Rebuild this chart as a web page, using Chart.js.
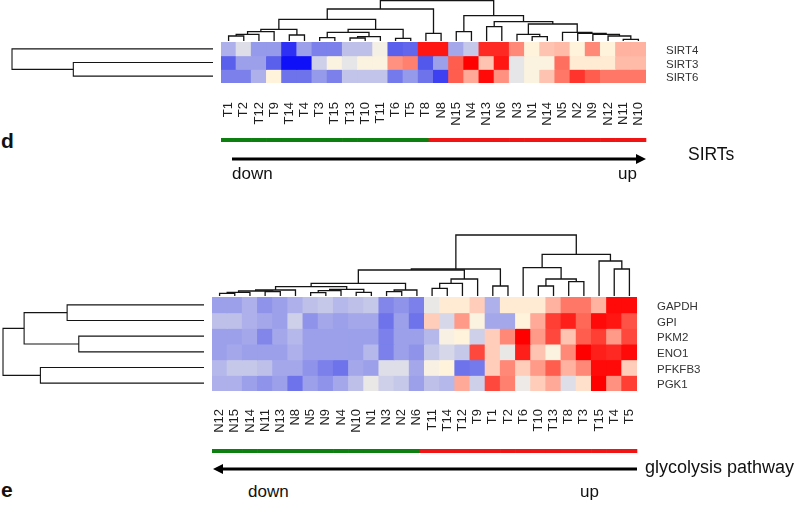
<!DOCTYPE html>
<html><head><meta charset="utf-8">
<script src="https://cdn.jsdelivr.net/npm/chart.js@4.4.1/dist/chart.umd.min.js"></script>
<style>
html,body{margin:0;padding:0;background:#fff;width:800px;height:507px;overflow:hidden;position:relative;font-family:"Liberation Sans",Arial,sans-serif;}
canvas{position:absolute;}
.t{position:absolute;white-space:nowrap;color:#111;line-height:1;}
</style></head><body>
<script>
// ---------- DATA ----------
const sirtSamples = ['T1','T2','T12','T9','T14','T4','T3','T15','T13','T10','T11','T6','T5','T8','N8','N15','N4','N13','N6','N3','N1','N14','N5','N2','N9','N12','N11','N10'];
const sirtGenes = ['SIRT4','SIRT3','SIRT6'];
const sirt4 = [-0.8,-0.2,-1.1,-1.1,-2.6,-1.0,-1.5,-1.5,-0.6,-0.6,0.1,-2.0,-1.9,2.8,2.8,-0.9,-0.5,2.6,2.6,1.6,0.4,0.9,1.0,0.4,1.6,0.4,1.1,1.1];
const sirt3 = [-2.0,-1.0,-1.0,-2.0,-3.0,-3.0,-0.4,0.3,-0.1,0.3,0.3,1.5,1.7,-2.1,-1.0,2.1,3.0,0.9,2.8,-0.1,0.3,0.3,1.9,0.5,0.5,0.5,1.0,1.0];
const sirt6 = [-1.5,-1.5,-0.8,0.4,-1.7,-1.7,-1.1,-1.5,-0.55,-0.55,-0.55,-1.6,-1.1,-1.7,-2.4,2.1,1.2,2.9,1.5,-0.1,0.3,0.9,1.8,2.5,2.1,1.8,1.8,1.8];
// column dendrogram (hclust style: negative = leaf position, positive = earlier merge)
const sirtColMerge = [[-1,-2],[1,-3],[2,-4],[-5,-6],[3,4],[-7,-8],[-9,-10],[7,-11],[6,8],[-12,-13],[9,10],[5,11],[-14,-15],[12,13],
  [-16,-17],[-18,-19],[-21,-22],[-20,17],[-27,-28],[-26,19],[-25,20],[-24,21],[-23,22],[18,23],[16,24],[15,25],[14,26]];
const sirtColHeight = [5,6.7,9.3,6,11.7,3.3,3,4.3,8.7,2.7,11.7,21.7,7.7,32,9.3,14.3,4.3,6.7,1.7,5,6.7,7.7,8.7,17,19.3,25.3,40.5];
const sirtRowMerge = [[-2,-3],[-1,1]];
const sirtRowHeight = [6.95,10];

const glySamples = ['N12','N15','N14','N11','N13','N8','N5','N9','N4','N10','N1','N3','N2','N6','T11','T14','T12','T9','T1','T2','T6','T10','T13','T8','T3','T15','T4','T5'];
const glyGenes = ['GAPDH','GPI','PKM2','ENO1','PFKFB3','PGK1'];
const gapdh  = [-1.0,-1.0,-0.8,-1.2,-1.0,-0.8,-0.6,-0.5,-0.7,-0.6,-0.5,-1.4,-1.2,-1.5,-0.05,0.5,0.5,0.8,-0.8,0.5,0.5,0.5,1.1,1.8,1.8,1.1,2.9,2.9];
const gpi    = [-0.6,-0.6,-0.8,-0.9,-1.0,-0.4,-1.2,-0.9,-1.0,-0.9,-0.9,-1.7,-1.0,-1.7,0.8,-0.3,1.4,0.3,-0.9,-0.9,0.4,1.2,2.4,2.7,2.0,2.9,2.8,2.2];
const pkm2   = [-1.0,-1.0,-0.9,-1.4,-0.9,-0.7,-1.0,-1.0,-1.0,-1.0,-1.0,-1.5,-1.0,-1.0,-0.7,0.2,0.4,-0.4,0.8,1.6,3.0,1.4,2.3,0.9,2.1,2.4,1.4,2.3];
const eno1   = [-1.0,-0.9,-1.0,-1.0,-1.0,-0.8,-1.0,-1.0,-1.0,-1.0,-0.7,-1.5,-1.0,-1.2,-0.5,-0.3,-0.5,2.3,0.8,-0.05,2.7,0.9,0.3,1.6,3.0,2.7,2.6,2.9];
const pfkfb3 = [-0.7,-0.5,-0.5,-0.6,-0.9,-0.9,-1.2,-1.5,-1.7,-0.9,-1.0,-0.2,-0.2,-0.9,0.2,0.4,-1.7,-1.6,0.8,1.6,0.8,1.4,2.1,1.1,1.6,2.9,2.9,0.8];
const pgk1   = [-0.8,-0.8,-1.0,-1.2,-1.0,-1.7,-1.0,-1.2,-0.9,-0.6,-0.05,-0.4,-0.5,-1.0,-0.6,-0.7,1.2,-0.4,2.3,1.7,0.0,0.8,1.2,-0.2,0.6,3.0,1.5,2.4];
const glyColMerge = [[-1,-2],[1,-3],[-4,-5],[2,3],[4,-6],[-7,-8],[6,-9],[-10,-11],[7,8],[5,9],[-12,-13],[11,-14],[10,12],
  [-15,-16],[14,-17],[15,-18],[13,16],[-19,-20],[17,18],[-22,-23],[-24,-25],[20,21],[-21,22],[-27,-28],[-26,24],[23,25],[19,26]];
const glyColHeight = [2.7,3.7,4.3,5,6,3.3,5.3,3.7,6.7,9.3,4.3,6,12.7,7.7,12.7,17,26,10,27,10,14.3,17,28.3,27,35,41.7,61];
const glyRowMerge = [[-1,-2],[-3,-4],[1,2],[-5,-6],[3,4]];
const glyRowHeight = [6.81,6.23,8.95,8.14,10];

// ---------- HELPERS ----------
const FONT = '"Liberation Sans", Arial, sans-serif';
Chart.defaults.font.family = FONT;

const stops = [[-3,[16,16,248]],[-2,[90,96,236]],[-1,[156,160,234]],[-0.5,[198,200,234]],[-0.15,[226,226,232]],
  [0.1,[244,240,230]],[0.4,[255,243,220]],[1,[255,186,168]],[2,[255,103,87]],[3,[255,0,0]]];
function colorFor(v){
  if (v <= stops[0][0]) return 'rgb('+stops[0][1].join(',')+')';
  for (let i=1;i<stops.length;i++){
    if (v <= stops[i][0]){
      const [a,ca]=stops[i-1],[b,cb]=stops[i]; const t=(v-a)/(b-a);
      return 'rgb('+ca.map((c,j)=>Math.round(c+(cb[j]-c)*t)).join(',')+')';
    }
  }
  return 'rgb(255,0,0)';
}
function mkCanvas(l,t,w,h){
  const c=document.createElement('canvas'); c.width=w; c.height=h;
  c.style.left=l+'px'; c.style.top=t+'px'; c.style.width=w+'px'; c.style.height=h+'px';
  document.body.appendChild(c); return c;
}
function text(s,l,baseline,size,bold){
  const d=document.createElement('div'); d.className='t'; d.textContent=s;
  d.style.left=l+'px'; d.style.top=(baseline-0.85*size)+'px'; d.style.fontSize=size+'px';
  if(bold) d.style.fontWeight='bold';
  document.body.appendChild(d);
}
function noPad(s){ s.paddingTop=0; s.paddingBottom=0; s.paddingLeft=0; s.paddingRight=0; }
function dendro(canvas, merges, heights, horizontal, nLeaves, hMax, lw){
  const pos=[];
  const node=i=> i<0 ? {p:-i-1,h:0} : {p:pos[i-1],h:heights[i-1]};
  const datasets = merges.map(([a,b],k)=>{
    const A=node(a), B=node(b), h=heights[k];
    pos[k]=(A.p+B.p)/2;
    const pts=[[A.p,A.h],[A.p,h],[B.p,h],[B.p,B.h]];
    return {data:pts.map(([p,hh])=>horizontal?{x:hh,y:p}:{x:p,y:hh}), showLine:true, borderColor:'#141414',
      borderWidth:lw, pointRadius:0, fill:false, tension:0, clip:false, borderJoinStyle:'miter'};
  });
  new Chart(canvas,{type:'scatter',data:{datasets},options:{responsive:false,animation:false,devicePixelRatio:1,events:[],
    layout:{padding:0},plugins:{legend:{display:false},tooltip:{enabled:false}},
    scales: horizontal ? {
      x:{type:'linear',display:false,min:0,max:hMax,reverse:true},
      y:{type:'linear',display:false,min:-0.5,max:nLeaves-0.5,reverse:true}
    } : {
      x:{type:'linear',display:false,min:-0.5,max:nLeaves-0.5},
      y:{type:'linear',display:false,min:0,max:hMax}
    }}});
}
const annot = {
  id:'annot',
  afterDraw(chart, args, o){
    const {ctx, chartArea:a, scales:{x}} = chart;
    const labels = chart.data.labels, n = labels.length;
    const w = (a.right-a.left)/n;
    const grp = labels.map(l=>l[0]);
    const b = [a.left];
    for (let i=1;i<n;i++) b.push(grp[i]!==grp[i-1] ? x.getPixelForValue(i-1)+o.splitShift*w : x.getPixelForValue(i)-w/2);
    b.push(a.right);
    ctx.save();
    for (let i=0;i<n;i++){
      ctx.fillStyle = o.groupColors[grp[i]];
      ctx.fillRect(b[i]-0.3, a.bottom+o.barOffset-2, b[i+1]-b[i]+0.6, 4);
    }
    const y = a.bottom + o.arrowOffset;
    const x0 = a.left + o.insetL, x1 = a.right - o.insetR;
    const hl = 10, hw = 5;
    ctx.strokeStyle='#000'; ctx.fillStyle='#000'; ctx.lineWidth=3;
    ctx.beginPath();
    if (o.dir==='right'){ ctx.moveTo(x0,y); ctx.lineTo(x1-hl+1,y); }
    else { ctx.moveTo(x1,y); ctx.lineTo(x0+hl-1,y); }
    ctx.stroke();
    ctx.beginPath();
    if (o.dir==='right'){ ctx.moveTo(x1,y); ctx.lineTo(x1-hl,y-hw); ctx.lineTo(x1-hl,y+hw); }
    else { ctx.moveTo(x0,y); ctx.lineTo(x0+hl,y-hw); ctx.lineTo(x0+hl,y+hw); }
    ctx.closePath(); ctx.fill();
    ctx.restore();
  }
};
function heatmap(p){
  const canvas = mkCanvas(p.left, p.top, p.plotW+p.yAxisW, p.plotH+p.xAxisH);
  const datasets = p.rows.map((vals,r)=>({
    data: vals.map(()=>[r-0.5,r+0.5]),
    backgroundColor: vals.map(colorFor),
    borderWidth:0, inflateAmount:0.5, grouped:false, barPercentage:1, categoryPercentage:1
  }));
  new Chart(canvas,{type:'bar',data:{labels:p.samples,datasets},
    options:{responsive:false,animation:false,devicePixelRatio:1,events:[],
      layout:{padding:0},
      plugins:{legend:{display:false},tooltip:{enabled:false},annot:p.annot},
      scales:{
        x:{position:'bottom',grid:{display:false,drawTicks:false,tickLength:0},border:{display:false},
          ticks:{autoSkip:false,minRotation:90,maxRotation:90,padding:p.labelPad,font:{size:13},color:'#1e1e1e'},
          afterFit:s=>{s.height=p.xAxisH; noPad(s);}},
        y:{position:'right',min:-0.5,max:p.genes.length-0.5,reverse:true,
          grid:{display:false,drawTicks:false,tickLength:0},border:{display:false},
          afterBuildTicks:s=>{s.ticks=p.genes.map((g,i)=>({value:i}));},
          ticks:{autoSkip:false,callback:v=>p.genes[v],padding:p.rowPad,labelOffset:p.rowLabelOffset,font:{size:11.5},color:'#333'},
          afterFit:s=>{s.width=p.yAxisW; noPad(s);}}
      }},
    plugins:[annot]});
}

// ---------- PANEL d ----------
dendro(mkCanvas(221,0,425,41), sirtColMerge, sirtColHeight, false, sirtSamples.length, 41, 1.3);
dendro(mkCanvas(10,42,203,41), sirtRowMerge, sirtRowHeight, true, sirtGenes.length, 10.1, 1.1);
heatmap({left:221,top:42,plotW:425,plotH:41,yAxisW:110,xAxisH:90,samples:sirtSamples,genes:sirtGenes,
  rows:[sirt4,sirt3,sirt6],labelPad:19,rowPad:20,rowLabelOffset:2,
  annot:{groupColors:{T:'#0d7f10',N:'#f01414'},splitShift:0.2,barOffset:57,arrowOffset:76,insetL:11,insetR:0,dir:'right'}});

// ---------- PANEL e ----------
dendro(mkCanvas(212,234,425,62), glyColMerge, glyColHeight, false, glySamples.length, 62, 1.3);
dendro(mkCanvas(1,297,203,94), glyRowMerge, glyRowHeight, true, glyGenes.length, 10.1, 1.1);
heatmap({left:212,top:297,plotW:425,plotH:94,yAxisW:110,xAxisH:90,samples:glySamples,genes:glyGenes,
  rows:[gapdh,gpi,pkm2,eno1,pfkfb3,pgk1],labelPad:18,rowPad:20,rowLabelOffset:2,
  annot:{groupColors:{N:'#0d7f10',T:'#f01414'},splitShift:0.2,barOffset:60,arrowOffset:78,insetL:1,insetR:0,dir:'left'}});

// ---------- TEXT ----------
text('d',1,147.5,21,true);
text('down',232,179,17);
text('up',618,179,17);
text('SIRTs',688,160.7,17.5);
text('glycolysis pathway',645,473,18);
text('down',248,497,17);
text('up',580,497,17);
text('e',1,497,21,true);
</script>
</body></html>
